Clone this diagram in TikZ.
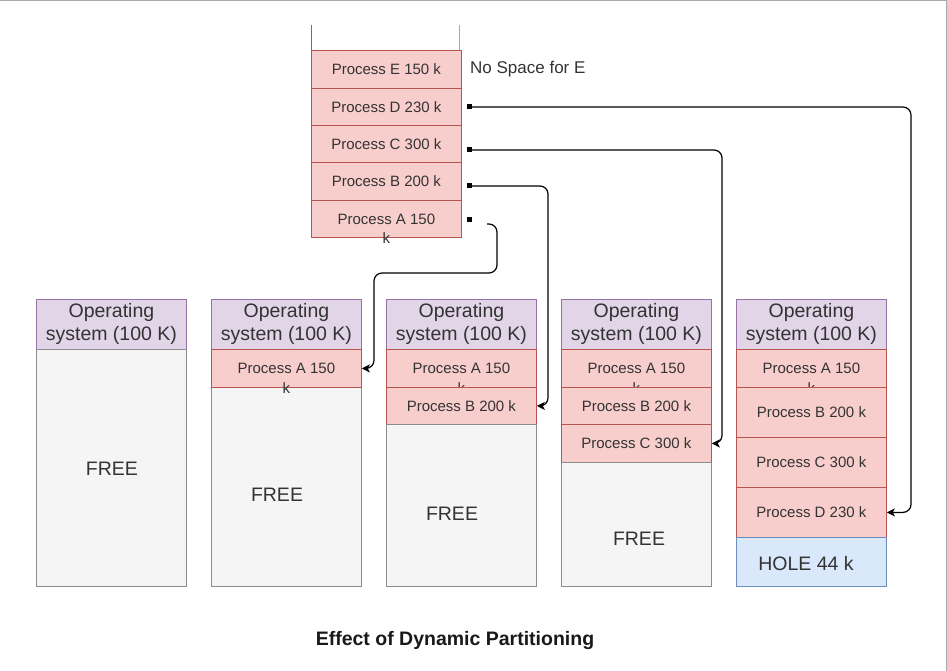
\documentclass[tikz,border=0pt]{standalone}
\usepackage{fontspec}
\setmainfont{Liberation Sans}
\usetikzlibrary{arrows.meta,calc}
\definecolor{pfill}{HTML}{F8CECC}
\definecolor{pdraw}{HTML}{B85450}
\definecolor{osfill}{HTML}{E1D5E7}
\definecolor{osdraw}{HTML}{9673A6}
\definecolor{ffill}{HTML}{F5F5F5}
\definecolor{fdraw}{HTML}{8C8C8C}
\definecolor{hfill}{HTML}{DAE8FC}
\definecolor{hdraw}{HTML}{6C8EBF}
\definecolor{tgray}{HTML}{333333}
\definecolor{frame}{HTML}{A8A8A8}
\tikzset{
  box/.style={rectangle, anchor=north west, minimum width=150pt, inner sep=0pt, line width=0.8pt},
  proc/.style={box, fill=pfill, draw=pdraw, text=tgray, font=\fontsize{15}{18}\selectfont},
  ktext/.style={inner sep=0pt, text=tgray, font=\fontsize{15}{18}\selectfont},
  osbox/.style={box, fill=osfill, draw=osdraw, minimum height=50pt, align=center, text=tgray, font=\fontsize{19.5}{23}\selectfont},
  freebox/.style={box, fill=ffill, draw=fdraw},
  holebox/.style={box, fill=hfill, draw=hdraw},
  bigtxt/.style={inner sep=0pt, text=tgray, font=\fontsize{19.5}{23}\selectfont},
  conn/.style={draw=black, line width=1.2pt, rounded corners=8pt, -{Stealth[length=8pt,width=8pt,inset=2pt]}},
  dot/.style={rectangle, fill=black, minimum size=5pt, inner sep=0pt},
}
\begin{document}
\begin{tikzpicture}[x=1pt,y=-1pt]
\useasboundingbox (0,0) rectangle (947,671);
\draw[frame, line width=1pt] (0,0.5) -- (946.5,0.5) -- (946.5,671);

% top stack
\draw[pdraw, line width=0.8pt] (311,25) -- (311,50);
\draw[frame, line width=0.8pt] (459.5,25) -- (459.5,50);
\node[proc, minimum height=38pt] (e0) at (311,50) {Process E 150 k};
\node[proc, minimum height=37pt] (d0) at (311,88) {Process D 230 k};
\node[proc, minimum height=37pt] (c0) at (311,125) {Process C 300 k};
\node[proc, minimum height=38pt] (b0) at (311,162) {Process B 200 k};
\node[proc, minimum height=37pt] (a0) at (311,200) {Process A 150};
\node[ktext] (k0) at (a0.south) {k};
\node[anchor=west, inner sep=0pt, text=tgray, font=\fontsize{17}{20}\selectfont] (nospace) at (470,69) {No Space for E};

\node[dot] (sD) at (469,107) {};
\node[dot] (sC) at (469,150) {};
\node[dot] (sB) at (469,186) {};
\node[dot] (sA) at (469,219) {};

% column 1
\node[osbox] (os1) at (36,299) {Operating\\system (100 K)};
\node[freebox, minimum height=237pt] (f1) at (36,349) {};
\node[bigtxt] (ft1) at (112,469) {FREE};

% column 2
\node[osbox] (os2) at (211,299) {Operating\\system (100 K)};
\node[freebox, minimum height=199pt] (f2) at (211,387) {};
\node[bigtxt] (ft2) at (277,495) {FREE};
\node[proc, minimum height=38pt] (a2) at (211,349) {Process A 150};
\node[ktext] (k2) at (a2.south) {k};

% column 3
\node[osbox] (os3) at (386,299) {Operating\\system (100 K)};
\node[proc, minimum height=38pt] (a3) at (386,349) {Process A 150};
\node[ktext] (k3) at (a3.south) {k};
\node[proc, minimum height=37pt] (b3) at (386,387) {Process B 200 k};
\node[freebox, minimum height=162pt] (f3) at (386,424) {};
\node[bigtxt] (ft3) at (452,514) {FREE};

% column 4
\node[osbox] (os4) at (561,299) {Operating\\system (100 K)};
\node[proc, minimum height=38pt] (a4) at (561,349) {Process A 150};
\node[ktext] (k4) at (a4.south) {k};
\node[proc, minimum height=37pt] (b4) at (561,387) {Process B 200 k};
\node[proc, minimum height=38pt] (c4) at (561,424) {Process C 300 k};
\node[freebox, minimum height=124pt] (f4) at (561,462) {};
\node[bigtxt] (ft4) at (639,539) {FREE};

% column 5
\node[osbox] (os5) at (736,299) {Operating\\system (100 K)};
\node[proc, minimum height=38pt] (a5) at (736,349) {Process A 150};
\node[ktext] (k5) at (a5.south) {k};
\node[proc, minimum height=50pt] (b5) at (736,387) {Process B 200 k};
\node[proc, minimum height=50pt] (c5) at (736,437) {Process C 300 k};
\node[proc, minimum height=50pt] (d5) at (736,487) {Process D 230 k};
\node[holebox, minimum height=49pt] (h5) at (736,537) {};
\node[bigtxt] (ht5) at (806,564) {HOLE 44 k};

% connectors
\coordinate (xD) at (911,0);
\coordinate (xC) at (722,0);
\coordinate (xB) at (548,0);
\coordinate (xA) at (374,0);
\coordinate (aS) at (487,224);
\coordinate (aT) at (497,273);
\draw[conn] (sD.east) -| (xD |- d5.east) -- (d5.east);
\draw[conn] (sC.east) -| (xC |- c4.east) -- (c4.east);
\draw[conn] (sB.east) -| (xB |- b3.east) -- (b3.east);
\draw[conn] (aS) -| (aT) -| (xA |- a2.east) -- (a2.east);

\node[inner sep=0pt, text=black!90, font=\bfseries\fontsize{19.5}{23}\selectfont] (title) at (455,640) {Effect of Dynamic Partitioning};
\end{tikzpicture}
\end{document}
